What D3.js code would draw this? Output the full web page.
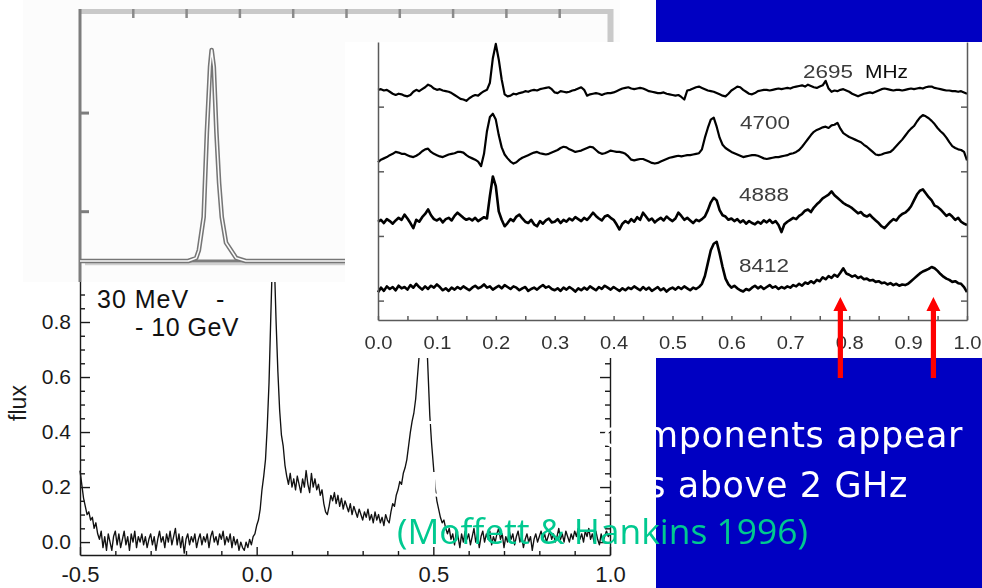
<!DOCTYPE html>
<html>
<head>
<meta charset="utf-8">
<script src="https://cdn.jsdelivr.net/npm/d3@7"></script>
<style>
  html, body { margin: 0; padding: 0; background: #0000c2; overflow: hidden; }
  svg { display: block; }
</style>
</head>
<body>
<svg id="slide" width="982" height="588"></svg>
<script>
// ---------------- data ----------------

// Gamma-ray light curve (30 MeV - 10 GeV), phase -0.5 .. 1.0 in steps of 0.005
const gammaPhaseStart = -0.5;
const gammaPhaseStep = 0.005;
const gammaFlux = [
  0.26, 0.21, 0.16, 0.13, 0.10, 0.11, 0.08, 0.09, 0.05, 0.07,
  0.03, 0.01, 0.04, -0.02, 0.02, -0.03, 0.03, 0.00, -0.03, 0.02,
  0.04, -0.01, 0.03, -0.02, 0.01, 0.04, -0.01, 0.02, -0.03, 0.03,
  0.00, 0.04, -0.02, 0.02, 0.00, 0.03, -0.01, 0.02, -0.02, 0.01,
  0.03, -0.01, 0.02, -0.03, 0.01, 0.04, 0.00, 0.02, -0.02, 0.03,
  0.00, 0.04, -0.01, 0.02, 0.05, -0.01, 0.03, -0.02, 0.02, -0.04,
  0.01, 0.03, -0.01, 0.02, 0.00, 0.03, -0.02, 0.01, 0.03, -0.01,
  0.02, 0.00, 0.03, -0.02, 0.02, 0.04, 0.00, 0.02, -0.01, 0.03,
  0.01, 0.04, -0.01, 0.02, 0.00, 0.03, -0.02, 0.02, -0.01, 0.01,
  -0.03, 0.00, -0.02, -0.03, 0.00, -0.02, 0.01, -0.01, 0.02, 0.03,
  0.06, 0.08, 0.12, 0.19, 0.24, 0.30, 0.42, 0.58, 0.82, 1.05,
  1.02, 0.80, 0.62, 0.48, 0.39, 0.35, 0.28, 0.24, 0.21, 0.25,
  0.20, 0.23, 0.19, 0.24, 0.21, 0.18, 0.23, 0.20, 0.26, 0.21,
  0.18, 0.25, 0.20, 0.23, 0.19, 0.21, 0.17, 0.19, 0.14, 0.11,
  0.10, 0.13, 0.17, 0.15, 0.18, 0.14, 0.17, 0.13, 0.16, 0.12,
  0.15, 0.13, 0.11, 0.14, 0.10, 0.13, 0.11, 0.09, 0.12, 0.10,
  0.08, 0.11, 0.09, 0.12, 0.08, 0.10, 0.07, 0.11, 0.08, 0.10,
  0.07, 0.09, 0.06, 0.10, 0.08, 0.07, 0.11, 0.14, 0.13, 0.17,
  0.19, 0.22, 0.21, 0.25, 0.27, 0.30, 0.35, 0.40, 0.44, 0.47,
  0.52, 0.60, 0.68, 0.76, 0.82, 0.84, 0.78, 0.62, 0.46, 0.36,
  0.28, 0.20, 0.15, 0.12, 0.09, 0.07, 0.08, 0.05, 0.03, 0.05,
  0.01, 0.03, -0.01, 0.04, 0.02, -0.02, 0.03, 0.00, 0.04, 0.01,
  0.03, -0.01, 0.02, 0.05, 0.00, 0.03, -0.02, 0.02, 0.04, 0.00,
  0.03, 0.01, 0.04, -0.01, 0.02, 0.00, 0.03, 0.05, 0.01, 0.03,
  -0.02, 0.02, 0.00, 0.04, 0.01, 0.03, -0.01, 0.02, 0.04, 0.00,
  0.02, -0.02, 0.01, 0.03, 0.00, 0.02, -0.03, 0.01, 0.03, 0.00,
  0.02, 0.04, 0.01, 0.03, 0.00, 0.02, 0.04, 0.01, 0.03, 0.00,
  0.02, 0.05, 0.01, 0.03, 0.00, 0.04, 0.02, 0.00, 0.03, 0.01,
  0.04, 0.02, 0.05, 0.01, 0.03, 0.00, 0.04, 0.02, 0.05, 0.01,
  0.03, 0.00, 0.04, 0.01, -0.01, 0.03, 0.00, 0.02, 0.04, 0.02,
  0.03
];
const gammaXTicks = [-0.5, 0.0, 0.5, 1.0];
const gammaXMinor = [-0.4, -0.3, -0.2, -0.1, 0.1, 0.2, 0.3, 0.4, 0.6, 0.7, 0.8, 0.9];
const gammaYTicks = [0.0, 0.2, 0.4, 0.6, 0.8];
const gammaYMinor = [0.05, 0.10, 0.15, 0.25, 0.30, 0.35, 0.45, 0.50, 0.55, 0.65, 0.70, 0.75, 0.85, 0.90, 0.95];

// Radio profiles, phase 0 .. 1 in steps of 0.005, height above each band's baseline
const radioPhaseStep = 0.005;
const radioBands = ["2695", "4700", "4888", "8412"];
const radioOffsets = [3.53, 2.52, 1.52, 0.48];
const radio2695 = [
  0.03, 0.04, 0.02, 0.03, 0.00, -0.03, -0.05, -0.03, -0.04, -0.06,
  -0.07, -0.05, 0.00, 0.03, 0.01, 0.04, 0.07, 0.11, 0.09, 0.05,
  0.03, 0.04, 0.02, 0.01, 0.00, -0.02, -0.05, -0.08, -0.11, -0.12,
  -0.14, -0.10, -0.07, -0.05, -0.06, -0.02, 0.01, 0.03, 0.14, 0.52,
  0.74, 0.50, 0.19, -0.04, -0.07, -0.06, -0.03, -0.04, -0.02, -0.01,
  0.01, 0.00, 0.02, 0.03, 0.02, 0.04, 0.05, 0.06, 0.07, 0.04,
  -0.01, -0.02, 0.01, 0.00, -0.01, 0.00, 0.02, 0.03, 0.05, 0.07,
  0.03, -0.06, -0.04, -0.03, -0.02, -0.03, -0.05, -0.03, -0.02, -0.02,
  -0.01, 0.01, 0.03, 0.05, 0.06, 0.07, 0.05, 0.04, 0.05, 0.06,
  0.05, 0.03, 0.01, 0.00, -0.01, -0.02, -0.02, -0.01, -0.03, -0.04,
  -0.05, -0.06, -0.05, -0.08, -0.12, 0.02, 0.03, 0.05, 0.07, 0.08,
  0.06, 0.04, 0.02, 0.01, 0.00, -0.02, -0.04, -0.06, -0.07, -0.03,
  0.02, 0.05, 0.08, 0.07, 0.03, 0.00, -0.03, -0.04, -0.02, 0.01,
  0.02, 0.03, 0.03, 0.02, 0.03, 0.04, 0.05, 0.04, 0.05, 0.06,
  0.05, 0.07, 0.08, 0.09, 0.10, 0.08, 0.11, 0.09, 0.07, 0.06,
  0.08, 0.10, 0.17, 0.05, 0.00, 0.02, 0.01, 0.03, 0.04, 0.02,
  0.00, -0.03, -0.05, -0.07, -0.05, -0.03, -0.02, -0.01, -0.02, 0.00,
  0.02, 0.04, 0.05, 0.04, 0.03, 0.02, 0.03, 0.03, 0.02, 0.03,
  0.04, 0.05, 0.04, 0.05, 0.06, 0.05, 0.07, 0.08, 0.08, 0.06,
  0.05, 0.04, 0.03, 0.02, 0.02, 0.01, 0.01, 0.00, 0.01, -0.01,
  -0.03
];
const radio4700 = [
  -0.08, -0.04, -0.02, 0.00, 0.03, 0.05, 0.08, 0.07, 0.05, 0.05,
  0.03, 0.01, 0.00, 0.02, 0.05, 0.09, 0.12, 0.13, 0.08, 0.05,
  0.03, 0.01, 0.00, 0.02, 0.04, 0.05, 0.06, 0.08, 0.08, 0.07,
  0.03, 0.00, -0.02, -0.04, -0.07, -0.14, 0.05, 0.40, 0.62, 0.67,
  0.58, 0.34, 0.15, 0.04, -0.02, -0.07, -0.10, -0.08, -0.04, -0.01,
  0.01, 0.03, 0.05, 0.07, 0.08, 0.06, 0.05, 0.04, 0.05, 0.07,
  0.09, 0.11, 0.14, 0.16, 0.15, 0.12, 0.10, 0.08, 0.09, 0.10,
  0.12, 0.14, 0.16, 0.15, 0.11, 0.07, 0.05, 0.06, 0.08, 0.10,
  0.09, 0.08, 0.08, 0.07, 0.05, 0.01, -0.04, -0.05, -0.04, -0.03,
  -0.03, -0.05, -0.07, -0.09, -0.10, -0.09, -0.07, -0.05, -0.03, -0.01,
  0.00, 0.01, 0.02, 0.01, 0.02, 0.03, 0.03, 0.04, 0.05, 0.06,
  0.12, 0.30, 0.45, 0.58, 0.61, 0.47, 0.30, 0.19, 0.14, 0.11,
  0.08, 0.06, 0.04, 0.02, 0.00, 0.01, 0.02, 0.03, 0.03, 0.02,
  0.00, -0.02, -0.03, -0.02, -0.01, 0.00, 0.00, 0.01, 0.02, 0.03,
  0.05, 0.06, 0.08, 0.11, 0.16, 0.22, 0.28, 0.34, 0.39, 0.42,
  0.44, 0.46, 0.47, 0.45, 0.49, 0.50, 0.53, 0.44, 0.37, 0.34,
  0.31, 0.29, 0.27, 0.25, 0.23, 0.19, 0.16, 0.12, 0.08, 0.04,
  0.03, 0.04, 0.06, 0.07, 0.08, 0.12, 0.17, 0.22, 0.27, 0.33,
  0.39, 0.44, 0.48, 0.55, 0.61, 0.65, 0.63, 0.60, 0.56, 0.51,
  0.45, 0.40, 0.36, 0.30, 0.23, 0.17, 0.14, 0.12, 0.11, 0.08,
  -0.05
];
const radio4888 = [
  0.00, 0.03, -0.02, 0.04, 0.01, -0.03, 0.02, 0.06, 0.03, 0.11,
  0.05, -0.02, -0.10, 0.03, 0.00, 0.07, 0.12, 0.19, 0.10, 0.04,
  0.02, 0.05, -0.01, 0.04, 0.06, 0.02, 0.09, 0.14, 0.10, 0.06,
  0.03, 0.05, 0.02, 0.06, 0.01, 0.04, 0.07, 0.05, 0.40, 0.70,
  0.55, 0.16, 0.03, -0.07, -0.02, 0.04, 0.01, 0.08, 0.11, 0.05,
  0.00, -0.02, 0.03, -0.04, -0.07, 0.01, -0.03, 0.02, 0.05, -0.01,
  0.00, 0.04, -0.02, 0.03, 0.00, 0.05, 0.02, 0.07, 0.04, 0.01,
  0.06, 0.03, 0.08, 0.14, 0.09, 0.05, 0.02, 0.08, 0.10, 0.06,
  0.03, -0.04, -0.12, -0.03, 0.01, -0.02, 0.04, 0.00, 0.07, 0.03,
  0.14, 0.08, 0.02, 0.05, -0.01, 0.03, 0.06, 0.02, 0.08, 0.04,
  0.01, 0.05, 0.14, 0.09, 0.03, 0.06, 0.02, -0.02, 0.03, 0.01,
  0.04, 0.08, 0.18, 0.30, 0.37, 0.33, 0.18, 0.10, 0.08, 0.03,
  0.05, 0.01, 0.04, -0.01, 0.02, -0.03, 0.01, -0.02, -0.04, 0.00,
  -0.03, 0.02, -0.01, 0.03, -0.02, 0.01, -0.05, -0.16, -0.04, 0.00,
  0.03, 0.06, 0.04, 0.09, 0.12, 0.17, 0.19, 0.15, 0.22, 0.27,
  0.31, 0.36, 0.39, 0.42, 0.47, 0.41, 0.37, 0.33, 0.29, 0.26,
  0.24, 0.21, 0.17, 0.13, 0.15, 0.10, 0.08, 0.11, 0.06, 0.02,
  -0.02, -0.07, -0.10, -0.05, 0.00, 0.04, 0.02, 0.08, 0.12, 0.14,
  0.18, 0.24, 0.33, 0.42, 0.48, 0.50, 0.44, 0.38, 0.33, 0.25,
  0.23, 0.19, 0.14, 0.09, 0.12, 0.08, 0.03, 0.06, 0.00, -0.03,
  -0.05
];
const radio8412 = [
  -0.05, 0.02, -0.03, 0.04, 0.00, 0.03, -0.02, 0.05, 0.01, 0.03,
  -0.01, 0.06, 0.02, 0.08, 0.03, -0.01, 0.04, 0.00, 0.05, 0.02,
  0.07, 0.03, -0.02, 0.01, -0.03, 0.02, -0.01, 0.03, 0.00, 0.04,
  0.01, -0.02, 0.02, 0.05, 0.01, 0.03, 0.07, 0.02, 0.04, -0.01,
  0.02, 0.05, 0.01, 0.06, 0.03, 0.00, 0.04, 0.02, -0.02, 0.01,
  0.03, -0.03, 0.00, 0.02, -0.01, 0.03, 0.06, 0.02, 0.04, 0.00,
  -0.02, 0.01, -0.03, 0.02, -0.01, 0.03, 0.00, -0.04, 0.01, -0.02,
  0.02, -0.01, 0.04, 0.01, -0.02, 0.03, 0.00, 0.05, 0.02, -0.01,
  0.03, 0.00, -0.03, 0.01, -0.02, 0.02, 0.00, 0.04, 0.01, -0.02,
  0.03, -0.01, 0.02, -0.03, 0.00, 0.03, -0.02, 0.01, -0.04, 0.00,
  0.02, -0.01, 0.03, 0.00, 0.04, 0.01, -0.02, 0.02, 0.00, 0.03,
  0.08, 0.20, 0.40, 0.60, 0.70, 0.73, 0.55, 0.34, 0.16, 0.07,
  0.02, 0.05, 0.01, -0.02, -0.04, 0.00, -0.02, 0.02, 0.05, 0.01,
  0.04, 0.00, 0.03, 0.06, 0.02, 0.04, 0.00, 0.03, 0.01, 0.04,
  0.02, 0.06, 0.04, 0.08, 0.05, 0.10, 0.08, 0.12, 0.09, 0.14,
  0.12, 0.18, 0.15, 0.20, 0.17, 0.22, 0.19, 0.25, 0.32, 0.24,
  0.22, 0.19, 0.21, 0.17, 0.19, 0.15, 0.16, 0.13, 0.14, 0.11,
  0.12, 0.09, 0.10, 0.07, 0.09, 0.06, 0.08, 0.05, 0.07, 0.06,
  0.08, 0.12, 0.16, 0.20, 0.24, 0.27, 0.29, 0.31, 0.34, 0.32,
  0.28, 0.23, 0.19, 0.16, 0.14, 0.11, 0.12, 0.09, 0.08, 0.03,
  -0.05
];
const radioXTicks = [0.0, 0.1, 0.2, 0.3, 0.4, 0.5, 0.6, 0.7, 0.8, 0.9, 1.0];
const radioXMinor = [0.05, 0.15, 0.25, 0.35, 0.45, 0.55, 0.65, 0.75, 0.85, 0.95];
const radioYTicks = [0.3, 1.3, 2.3, 3.3];
const radioArrowPhases = [0.785, 0.943];

// Single-peaked profile in the upper-left inset
const pulsePhase = [0, 2.03, 2.18, 2.23, 2.32, 2.38, 2.44, 2.47, 2.51, 2.56, 2.61, 2.66, 2.74, 2.93, 3.11, 10];
const pulseIntensity = [0, 0, 0.06, 0.22, 0.89, 2.60, 3.94, 4.28, 3.94, 2.60, 1.58, 0.89, 0.37, 0.06, 0, 0];
const pulseXTicks = [1, 2, 3, 4, 5, 6, 7, 8, 9];
const pulseYTicks = [1, 3];

// ---------------- drawing ----------------
const chartFont = "'Liberation Sans', Arial, Helvetica, sans-serif";
const slideFont = "'DejaVu Sans', Verdana, sans-serif";
const creditFont = "'Open Sans', 'Noto Sans', sans-serif";

const svg = d3.select("#slide");
svg.append("defs").append("filter")
  .attr("id", "soft").attr("x", "-2%").attr("y", "-2%").attr("width", "104%").attr("height", "104%")
  .append("feGaussianBlur").attr("stdDeviation", 0.45);

// slide background and image area
svg.append("rect").attr("width", 982).attr("height", 588).attr("fill", "#0000c2");
svg.append("rect").attr("width", 656).attr("height", 588).attr("fill", "#ffffff");

// ---- gamma-ray panel ----
const gx = d3.scaleLinear().domain([-0.5, 1.0]).range([80, 610]);
const gy = d3.scaleLinear().domain([-0.047, 1.0]).range([555, 267]);
const gamma = svg.append("g");

gamma.append("path").datum(gammaFlux)
  .attr("d", d3.line()
    .x((d, i) => gx(gammaPhaseStart + i * gammaPhaseStep))
    .y(d => gy(d)))
  .attr("fill", "none").attr("stroke", "#111").attr("stroke-width", 1.35)
  .attr("stroke-linejoin", "round");

function styleAxis(sel, size, color, width) {
  sel.attr("font-family", chartFont).attr("font-size", size).attr("color", color);
  sel.selectAll("line, path").attr("stroke-width", width);
}
const fmt1 = d => d.toFixed(1);

gamma.append("g").attr("transform", "translate(80,0)")
  .call(d3.axisLeft(gy).tickValues(gammaYTicks).tickSize(-10).tickSizeOuter(0).tickPadding(9).tickFormat(fmt1))
  .call(s => styleAxis(s, 21, "#1a1a1a", 1.4));
gamma.append("g").attr("transform", "translate(80,0)")
  .call(d3.axisLeft(gy).tickValues(gammaYMinor).tickSize(-5).tickFormat(""))
  .call(s => { s.select(".domain").remove(); styleAxis(s, 21, "#1a1a1a", 1.4); });
gamma.append("g").attr("transform", "translate(610,0)")
  .call(d3.axisRight(gy).tickValues(gammaYTicks).tickSize(-10).tickSizeOuter(0).tickFormat(""))
  .call(s => styleAxis(s, 21, "#1a1a1a", 1.4));
gamma.append("g").attr("transform", "translate(610,0)")
  .call(d3.axisRight(gy).tickValues(gammaYMinor).tickSize(-5).tickFormat(""))
  .call(s => { s.select(".domain").remove(); styleAxis(s, 21, "#1a1a1a", 1.4); });
gamma.append("g").attr("transform", "translate(0,555)")
  .call(d3.axisBottom(gx).tickValues(gammaXTicks).tickSize(-8).tickSizeOuter(0).tickPadding(11).tickFormat(fmt1))
  .call(s => styleAxis(s, 22, "#1a1a1a", 1.4));
gamma.append("g").attr("transform", "translate(0,555)")
  .call(d3.axisBottom(gx).tickValues(gammaXMinor).tickSize(-4).tickFormat(""))
  .call(s => { s.select(".domain").remove(); styleAxis(s, 22, "#1a1a1a", 1.4); });

gamma.append("text")
  .attr("transform", "translate(26,403) rotate(-90)")
  .attr("text-anchor", "middle").attr("font-family", chartFont).attr("font-size", 23)
  .attr("fill", "#1a1a1a").text("flux");
// energy band label
gamma.append("text").attr("x", 97).attr("y", 308)
  .attr("font-family", chartFont).attr("font-size", 25).attr("letter-spacing", 1).attr("fill", "#111")
  .text("30 MeV");
gamma.append("text").attr("x", 216).attr("y", 308)
  .attr("font-family", chartFont).attr("font-size", 25).attr("fill", "#111")
  .text("-");
gamma.append("text").attr("x", 135).attr("y", 336)
  .attr("font-family", chartFont).attr("font-size", 25).attr("letter-spacing", 0.5).attr("fill", "#111")
  .text("- 10 GeV");

// ---- upper-left inset ----
const px = d3.scaleLinear().domain([0, 10]).range([80, 613]);
const py = d3.scaleLinear().domain([0, 5.05]).range([261, 12]);
const inset = svg.append("g");
inset.append("rect").attr("x", 23).attr("y", 0).attr("width", 597).attr("height", 282).attr("fill", "#fcfcfc");
inset.append("line").attr("x1", 80).attr("x2", 613).attr("y1", 11.5).attr("y2", 11.5)
  .attr("stroke", "#c9c9c9").attr("stroke-width", 5);
inset.append("line").attr("x1", 610.5).attr("x2", 610.5).attr("y1", 9).attr("y2", 45)
  .attr("stroke", "#c9c9c9").attr("stroke-width", 6);
inset.selectAll("line.ptick").data(pulseXTicks).join("line").attr("class", "ptick")
  .attr("x1", d => px(d)).attr("x2", d => px(d)).attr("y1", 9).attr("y2", 18)
  .attr("stroke", "#8a8a8a").attr("stroke-width", 2.5);
inset.append("line").attr("x1", 85).attr("x2", 345).attr("y1", 264).attr("y2", 264)
  .attr("stroke", "#d0d0d0").attr("stroke-width", 2.5);
inset.append("line").attr("x1", 80).attr("x2", 345).attr("y1", py(0)).attr("y2", py(0))
  .attr("stroke", "#7d7d7d").attr("stroke-width", 3);
inset.append("line").attr("x1", 80).attr("x2", 80).attr("y1", 9).attr("y2", 282)
  .attr("stroke", "#7d7d7d").attr("stroke-width", 3);
inset.selectAll("line.pytick").data(pulseYTicks).join("line").attr("class", "pytick")
  .attr("x1", 80).attr("x2", 89).attr("y1", d => py(d)).attr("y2", d => py(d))
  .attr("stroke", "#7d7d7d").attr("stroke-width", 3);
const pulseLine = d3.line().x((d, i) => px(pulsePhase[i])).y(d => py(d));
inset.append("path").datum(pulseIntensity).attr("d", pulseLine)
  .attr("fill", "none").attr("stroke", "#767676").attr("stroke-width", 4.6).attr("stroke-linejoin", "round");
inset.append("path").datum(pulseIntensity).attr("d", pulseLine)
  .attr("fill", "none").attr("stroke", "#fcfcfc").attr("stroke-width", 1.5).attr("stroke-linejoin", "round");

// ---- multi-frequency radio panel ----
const rx = d3.scaleLinear().domain([0, 1]).range([378, 967]);
const ry = d3.scaleLinear().domain([0, 4.3]).range([320, 42]);
svg.append("rect").attr("x", 345).attr("y", 42).attr("width", 637).attr("height", 316).attr("fill", "#ffffff");
const radio = svg.append("g").attr("filter", "url(#soft)");

const radioSeries = [radio2695, radio4700, radio4888, radio8412];
const radioStroke = [2.2, 2.2, 2.6, 2.6];
radioSeries.forEach((vals, k) => {
  radio.append("path").datum(vals)
    .attr("d", d3.line().x((d, i) => rx(i * radioPhaseStep)).y(d => ry(radioOffsets[k] + d)))
    .attr("fill", "none").attr("stroke", "#050505").attr("stroke-width", radioStroke[k])
    .attr("stroke-linejoin", "round");
});

radio.append("g").attr("transform", "translate(378,0)")
  .call(d3.axisLeft(ry).tickValues(radioYTicks).tickSize(-6).tickSizeOuter(0).tickFormat(""))
  .call(s => styleAxis(s, 18, "#5a5a5a", 1.5));
radio.append("g").attr("transform", "translate(967,0)")
  .call(d3.axisRight(ry).tickValues(radioYTicks).tickSize(-6).tickSizeOuter(0).tickFormat(""))
  .call(s => styleAxis(s, 18, "#5a5a5a", 1.5));
radio.append("g").attr("transform", "translate(0,320)")
  .call(d3.axisBottom(rx).tickValues(radioXTicks).tickSize(-4).tickSizeOuter(0).tickPadding(16).tickFormat(fmt1))
  .call(s => {
    styleAxis(s, 18, "#5a5a5a", 1.5);
    s.selectAll("text").attr("fill", "#333").attr("textLength", 28).attr("lengthAdjust", "spacingAndGlyphs");
  });
radio.append("g").attr("transform", "translate(0,320)")
  .call(d3.axisBottom(rx).tickValues(radioXMinor).tickSize(-4).tickFormat(""))
  .call(s => { s.select(".domain").remove(); styleAxis(s, 18, "#5a5a5a", 1.5); });

// band labels (frequency in MHz)
const bandLabelPlace = [
  { x: 803, y: 78 }, { x: 740, y: 129 }, { x: 739, y: 201 }, { x: 739, y: 272 }
];
radio.selectAll("text.band").data(radioBands).join("text").attr("class", "band")
  .attr("x", (d, i) => bandLabelPlace[i].x).attr("y", (d, i) => bandLabelPlace[i].y)
  .attr("font-family", chartFont).attr("font-size", 19).attr("fill", "#3c3c3c")
  .attr("textLength", 50).attr("lengthAdjust", "spacingAndGlyphs")
  .text(d => d);
radio.append("text").attr("x", 865).attr("y", 78)
  .attr("font-family", chartFont).attr("font-size", 19).attr("fill", "#0a0a0a")
  .attr("textLength", 43).attr("lengthAdjust", "spacingAndGlyphs").text("MHz");

// ---- slide text ----
svg.append("text").attr("x", 963).attr("y", 447).attr("text-anchor", "end")
  .attr("font-family", slideFont).attr("font-size", 35).attr("letter-spacing", 0.6).attr("fill", "#ffffff")
  .text("Two extra components appear");
svg.append("text").attr("x", 908).attr("y", 497).attr("text-anchor", "end")
  .attr("font-family", slideFont).attr("font-size", 35).attr("letter-spacing", 0.6).attr("fill", "#ffffff")
  .text("at frequencies above 2 GHz");
svg.append("text").attr("x", 397).attr("y", 544)
  .attr("font-family", creditFont).attr("font-size", 34).attr("fill", "#00c990")
  .attr("textLength", 411).attr("lengthAdjust", "spacingAndGlyphs")
  .text("(Moffett & Hankins 1996)");

// ---- arrows marking the new components ----
svg.selectAll("path.arrow").data(radioArrowPhases).join("path").attr("class", "arrow")
  .attr("d", d => {
    const x = rx(d);
    return `M${x - 2.6},378V311H${x - 7}L${x},297L${x + 7},311H${x + 2.6}V378Z`;
  })
  .attr("fill", "#ff0000");
</script>
</body>
</html>
